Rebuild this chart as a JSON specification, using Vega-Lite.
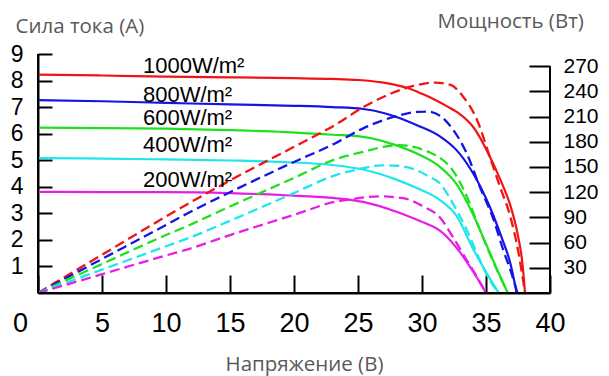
{
  "$schema": "https://vega.github.io/schema/vega-lite/v6.json",
  "width": 512,
  "height": 239,
  "autosize": "none",
  "padding": {"left": 38, "top": 54, "right": 59, "bottom": 83},
  "background": "white",
  "config": {
    "view": {"stroke": null},
    "axis": {
      "grid": false,
      "domain": true,
      "ticks": true,
      "zindex": 1,
      "domainColor": "black",
      "domainWidth": 2,
      "domainOpacity": 1,
      "tickColor": "black",
      "tickWidth": 2,
      "tickOpacity": 1,
      "labelColor": "black",
      "labelFont": "Liberation Sans",
      "labelFlush": false,
      "labelOverlap": false,
      "labelBound": false,
      "titleFont": "Open Sans",
      "titleColor": "#595959",
      "titleFontWeight": "normal",
      "titleFontSize": 20.5
    }
  },
  "datasets": {
    "iv": [
      {"irr": "1000", "V": 0, "I": 8.22}, {"irr": "1000", "V": 5, "I": 8.19}, {"irr": "1000", "V": 10, "I": 8.15},
      {"irr": "1000", "V": 15, "I": 8.12}, {"irr": "1000", "V": 20, "I": 8.09}, {"irr": "1000", "V": 23, "I": 8.06},
      {"irr": "1000", "V": 25, "I": 8.02}, {"irr": "1000", "V": 27, "I": 7.92}, {"irr": "1000", "V": 28, "I": 7.83},
      {"irr": "1000", "V": 29, "I": 7.7}, {"irr": "1000", "V": 30, "I": 7.5}, {"irr": "1000", "V": 31, "I": 7.28},
      {"irr": "1000", "V": 32, "I": 7.02}, {"irr": "1000", "V": 33, "I": 6.72}, {"irr": "1000", "V": 34, "I": 6.25},
      {"irr": "1000", "V": 34.5, "I": 5.88}, {"irr": "1000", "V": 35, "I": 5.42}, {"irr": "1000", "V": 35.8, "I": 4.62},
      {"irr": "1000", "V": 36.4, "I": 3.95}, {"irr": "1000", "V": 36.9, "I": 3.3}, {"irr": "1000", "V": 37.5, "I": 2.15},
      {"irr": "1000", "V": 37.85, "I": 1.1}, {"irr": "1000", "V": 38.05, "I": 0},

      {"irr": "800", "V": 0, "I": 7.26}, {"irr": "800", "V": 5, "I": 7.22}, {"irr": "800", "V": 10, "I": 7.16},
      {"irr": "800", "V": 15, "I": 7.1}, {"irr": "800", "V": 20, "I": 7.05}, {"irr": "800", "V": 23, "I": 7.0},
      {"irr": "800", "V": 25.4, "I": 6.93}, {"irr": "800", "V": 27, "I": 6.78}, {"irr": "800", "V": 28, "I": 6.63},
      {"irr": "800", "V": 29.6, "I": 6.32}, {"irr": "800", "V": 31.4, "I": 5.9}, {"irr": "800", "V": 32.7, "I": 5.38},
      {"irr": "800", "V": 34, "I": 4.5}, {"irr": "800", "V": 35.3, "I": 3.24}, {"irr": "800", "V": 36.2, "I": 2.12},
      {"irr": "800", "V": 36.9, "I": 1.12}, {"irr": "800", "V": 37.4, "I": 0},

      {"irr": "600", "V": 0, "I": 6.23}, {"irr": "600", "V": 5, "I": 6.21}, {"irr": "600", "V": 10, "I": 6.19},
      {"irr": "600", "V": 15, "I": 6.13}, {"irr": "600", "V": 19.3, "I": 6.06}, {"irr": "600", "V": 23, "I": 5.96},
      {"irr": "600", "V": 25.4, "I": 5.88}, {"irr": "600", "V": 28, "I": 5.56}, {"irr": "600", "V": 29.6, "I": 5.25},
      {"irr": "600", "V": 31.4, "I": 4.75}, {"irr": "600", "V": 32.7, "I": 4.1}, {"irr": "600", "V": 34, "I": 2.95},
      {"irr": "600", "V": 35, "I": 1.85}, {"irr": "600", "V": 35.9, "I": 0.85}, {"irr": "600", "V": 36.7, "I": 0},

      {"irr": "400", "V": 0, "I": 5.08}, {"irr": "400", "V": 5, "I": 5.06}, {"irr": "400", "V": 10, "I": 5.03},
      {"irr": "400", "V": 15, "I": 4.99}, {"irr": "400", "V": 19.3, "I": 4.93}, {"irr": "400", "V": 23, "I": 4.82},
      {"irr": "400", "V": 25.4, "I": 4.65}, {"irr": "400", "V": 28, "I": 4.27}, {"irr": "400", "V": 29.6, "I": 3.95},
      {"irr": "400", "V": 31.4, "I": 3.5}, {"irr": "400", "V": 32.7, "I": 2.9}, {"irr": "400", "V": 34, "I": 1.65},
      {"irr": "400", "V": 35.05, "I": 0.75}, {"irr": "400", "V": 36.0, "I": 0},

      {"irr": "200", "V": 0, "I": 3.81}, {"irr": "200", "V": 5, "I": 3.8}, {"irr": "200", "V": 10, "I": 3.8},
      {"irr": "200", "V": 15, "I": 3.76}, {"irr": "200", "V": 19.3, "I": 3.68}, {"irr": "200", "V": 23, "I": 3.58},
      {"irr": "200", "V": 25.4, "I": 3.43}, {"irr": "200", "V": 28, "I": 3.06}, {"irr": "200", "V": 29.6, "I": 2.76},
      {"irr": "200", "V": 30.5, "I": 2.58}, {"irr": "200", "V": 31.4, "I": 2.35}, {"irr": "200", "V": 32.7, "I": 1.7},
      {"irr": "200", "V": 34, "I": 0.8}, {"irr": "200", "V": 35, "I": 0}
    ],
    "pv": [
      {"irr": "1000", "V": 0, "P": 0}, {"irr": "1000", "V": 5, "P": 45.5}, {"irr": "1000", "V": 10, "P": 91},
      {"irr": "1000", "V": 11.7, "P": 106}, {"irr": "1000", "V": 15, "P": 134}, {"irr": "1000", "V": 20, "P": 174},
      {"irr": "1000", "V": 23.2, "P": 200}, {"irr": "1000", "V": 25.4, "P": 221}, {"irr": "1000", "V": 28, "P": 240},
      {"irr": "1000", "V": 29.6, "P": 247.5}, {"irr": "1000", "V": 31, "P": 250.5}, {"irr": "1000", "V": 32.2, "P": 248},
      {"irr": "1000", "V": 33.2, "P": 234}, {"irr": "1000", "V": 34.3, "P": 206}, {"irr": "1000", "V": 35.3, "P": 162},
      {"irr": "1000", "V": 36.1, "P": 126}, {"irr": "1000", "V": 36.9, "P": 91}, {"irr": "1000", "V": 37.5, "P": 51},
      {"irr": "1000", "V": 38.05, "P": 0},

      {"irr": "800", "V": 0, "P": 0}, {"irr": "800", "V": 5, "P": 40.5}, {"irr": "800", "V": 10, "P": 81},
      {"irr": "800", "V": 11.7, "P": 95}, {"irr": "800", "V": 15, "P": 120}, {"irr": "800", "V": 20, "P": 156},
      {"irr": "800", "V": 23.2, "P": 178}, {"irr": "800", "V": 25.4, "P": 196}, {"irr": "800", "V": 28, "P": 210.5},
      {"irr": "800", "V": 29.6, "P": 215.5}, {"irr": "800", "V": 30.4, "P": 216}, {"irr": "800", "V": 31.4, "P": 211},
      {"irr": "800", "V": 32.4, "P": 195}, {"irr": "800", "V": 33.5, "P": 166}, {"irr": "800", "V": 34.5, "P": 127},
      {"irr": "800", "V": 35.6, "P": 87}, {"irr": "800", "V": 36.35, "P": 51}, {"irr": "800", "V": 37, "P": 23},
      {"irr": "800", "V": 37.45, "P": 0},

      {"irr": "600", "V": 0, "P": 0}, {"irr": "600", "V": 5, "P": 34.5}, {"irr": "600", "V": 10, "P": 69},
      {"irr": "600", "V": 11.7, "P": 80}, {"irr": "600", "V": 15, "P": 103}, {"irr": "600", "V": 20, "P": 137},
      {"irr": "600", "V": 23.2, "P": 159}, {"irr": "600", "V": 25.4, "P": 168}, {"irr": "600", "V": 27, "P": 174},
      {"irr": "600", "V": 28.2, "P": 176}, {"irr": "600", "V": 29.6, "P": 173}, {"irr": "600", "V": 30.5, "P": 168},
      {"irr": "600", "V": 31.4, "P": 161}, {"irr": "600", "V": 32.4, "P": 146}, {"irr": "600", "V": 33.5, "P": 115},
      {"irr": "600", "V": 34.5, "P": 76}, {"irr": "600", "V": 35.6, "P": 36}, {"irr": "600", "V": 36.7, "P": 0},

      {"irr": "400", "V": 0, "P": 0}, {"irr": "400", "V": 5, "P": 27.8}, {"irr": "400", "V": 10, "P": 55.6},
      {"irr": "400", "V": 11.7, "P": 65}, {"irr": "400", "V": 15, "P": 86}, {"irr": "400", "V": 20, "P": 119},
      {"irr": "400", "V": 23.2, "P": 140}, {"irr": "400", "V": 25.4, "P": 148.5}, {"irr": "400", "V": 26.8, "P": 152},
      {"irr": "400", "V": 28, "P": 151.5}, {"irr": "400", "V": 29.6, "P": 146}, {"irr": "400", "V": 30.5, "P": 139},
      {"irr": "400", "V": 31.4, "P": 130.6}, {"irr": "400", "V": 32.4, "P": 107}, {"irr": "400", "V": 33.5, "P": 75},
      {"irr": "400", "V": 34.5, "P": 40}, {"irr": "400", "V": 35.3, "P": 15}, {"irr": "400", "V": 36.0, "P": 0},

      {"irr": "200", "V": 0, "P": 0}, {"irr": "200", "V": 5, "P": 22.4}, {"irr": "200", "V": 10, "P": 44.7},
      {"irr": "200", "V": 11.7, "P": 52}, {"irr": "200", "V": 15, "P": 69}, {"irr": "200", "V": 20, "P": 93},
      {"irr": "200", "V": 23.2, "P": 108.5}, {"irr": "200", "V": 24.4, "P": 111.5}, {"irr": "200", "V": 26.7, "P": 115},
      {"irr": "200", "V": 28.5, "P": 113}, {"irr": "200", "V": 30.1, "P": 103}, {"irr": "200", "V": 31.4, "P": 90},
      {"irr": "200", "V": 32.4, "P": 67}, {"irr": "200", "V": 33.5, "P": 39}, {"irr": "200", "V": 34.3, "P": 19},
      {"irr": "200", "V": 35, "P": 0}
    ],
    "labels": [
      {"text": "1000W/m²", "V": 8.2, "I": 8.27},
      {"text": "800W/m²", "V": 8.2, "I": 7.19},
      {"text": "600W/m²", "V": 8.2, "I": 6.32},
      {"text": "400W/m²", "V": 8.2, "I": 5.31},
      {"text": "200W/m²", "V": 8.2, "I": 4.0}
    ]
  },
  "layer": [
    {
      "data": {"name": "iv"},
      "mark": {"type": "line", "interpolate": "monotone", "strokeWidth": 2.2},
      "encoding": {
        "x": {
          "field": "V", "type": "quantitative",
          "scale": {"domain": [0, 40], "nice": false},
          "axis": {
            "orient": "bottom",
            "values": [0, 5, 10, 15, 20, 25, 30, 35, 40],
            "tickSize": -18,
            "labelPadding": 35,
            "labelFontSize": 27,
            "labelFlush": false,
            "labelOverlap": false,
            "labelOffset": {"condition": {"test": "datum.value === 0", "value": -18}, "value": 0},
            "title": "Напряжение (В)",
            "titleX": 266,
            "titleY": 77,
            "titleAlign": "center",
            "titleBaseline": "alphabetic"
          }
        },
        "y": {
          "field": "I", "type": "quantitative",
          "scale": {"domain": [0, 9], "nice": false},
          "axis": {
            "orient": "left",
            "values": [1, 2, 3, 4, 5, 6, 7, 8, 9],
            "tickSize": -14,
            "labelPadding": 29,
            "labelFontSize": 23,
            "labelOverlap": false,
            "title": "Сила тока (А)",
            "titleAngle": 0,
            "titleAlign": "left",
            "titleBaseline": "alphabetic",
            "titleX": -23,
            "titleY": -22
          }
        },
        "color": {
          "field": "irr", "type": "nominal",
          "scale": {"domain": ["1000", "800", "600", "400", "200"], "range": ["#f01414", "#1414e6", "#1ee11e", "#1ee6eb", "#e61ee6"]},
          "legend": null
        }
      }
    },
    {
      "data": {"name": "pv"},
      "mark": {"type": "line", "interpolate": "monotone", "strokeWidth": 2.3, "strokeDash": [10, 5]},
      "encoding": {
        "x": {"field": "V", "type": "quantitative", "scale": {"domain": [0, 40], "nice": false}},
        "y": {
          "field": "P", "type": "quantitative",
          "scale": {"domain": [0, 284.5], "nice": false},
          "axis": {
            "orient": "right",
            "values": [30, 60, 90, 120, 150, 180, 210, 240, 270],
            "domain": false,
            "tickSize": -21,
            "labelPadding": 34,
            "labelFontSize": 21,
            "labelOverlap": false,
            "labelAlign": "left",
            "title": "Мощность (Вт)",
            "titleAngle": 0,
            "titleAlign": "left",
            "titleBaseline": "alphabetic",
            "titleX": -113,
            "titleY": -27
          }
        },
        "color": {
          "field": "irr", "type": "nominal",
          "scale": {"domain": ["1000", "800", "600", "400", "200"], "range": ["#f01414", "#1414e6", "#1ee11e", "#1ee6eb", "#e61ee6"]},
          "legend": null
        }
      }
    },
    {
      "data": {"values": [{}]},
      "mark": {"type": "rule", "color": "black", "strokeWidth": 2},
      "encoding": {
        "x": {"datum": 40, "type": "quantitative", "scale": {"domain": [0, 40], "nice": false}},
        "y": {"datum": 0, "type": "quantitative", "scale": {"domain": [0, 284.5], "nice": false}, "axis": null},
        "y2": {"datum": 270}
      }
    },
    {
      "data": {"values": [{}]},
      "mark": {"type": "rule", "color": "black", "strokeWidth": 2},
      "encoding": {
        "x": {"datum": 0, "type": "quantitative", "scale": {"domain": [0, 40], "nice": false}},
        "y": {"datum": 0, "type": "quantitative", "scale": {"domain": [0, 9], "nice": false}, "axis": null},
        "y2": {"datum": 9}
      }
    },
    {
      "data": {"values": [{}]},
      "mark": {"type": "rule", "color": "black", "strokeWidth": 2},
      "encoding": {
        "x": {"datum": 0, "type": "quantitative", "scale": {"domain": [0, 40], "nice": false}},
        "x2": {"datum": 40},
        "y": {"datum": 0, "type": "quantitative", "scale": {"domain": [0, 9], "nice": false}, "axis": null}
      }
    },
    {
      "data": {"name": "labels"},
      "mark": {"type": "text", "align": "left", "baseline": "alphabetic", "font": "Liberation Sans", "fontSize": 22, "color": "black"},
      "encoding": {
        "x": {"field": "V", "type": "quantitative", "scale": {"domain": [0, 40], "nice": false}},
        "y": {"field": "I", "type": "quantitative", "scale": {"domain": [0, 9], "nice": false}, "axis": null},
        "text": {"field": "text"}
      }
    }
  ],
  "resolve": {"scale": {"y": "independent"}, "axis": {"y": "independent"}}
}
